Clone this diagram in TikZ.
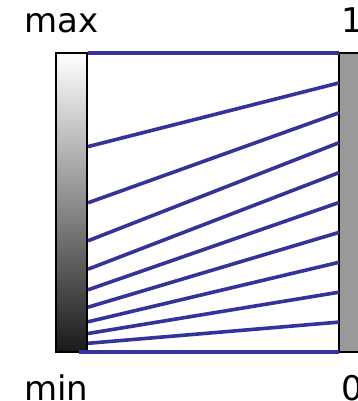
\documentclass[tikz,border=0pt]{standalone}
\usepackage{fontspec}
\setmainfont{DejaVu Sans}
\definecolor{mapblue}{RGB}{51,51,153}
\definecolor{rampgray}{RGB}{153,153,153}
\begin{document}
\begin{tikzpicture}[x=1pt,y=-1pt]
\useasboundingbox (0,0) rectangle (358,401);
\node[draw, rectangle, line width=2pt, inner sep=0pt, minimum width=31pt, minimum height=299pt, top color=white, bottom color=black!90] (inbar) at (71.5,202.5) {};
\node[draw, rectangle, line width=2pt, inner sep=0pt, minimum width=31pt, minimum height=299pt, fill=rampgray] (outbar) at (354.5,202.5) {};
\node[anchor=base west, inner sep=0pt, font=\fontsize{34}{40}\selectfont] (max) at (24,33) {max};
\node[anchor=base west, inner sep=0pt, font=\fontsize{34}{40}\selectfont] (min) at (24,400) {min};
\node[anchor=base west, inner sep=0pt, font=\fontsize{34}{40}\selectfont] (one) at (341,33) {1};
\node[anchor=base west, inner sep=0pt, font=\fontsize{34}{40}\selectfont] (zero) at (341,400) {0};
% mapping lines
\foreach \i/\ly in {0/53,1/146.6,2/202.8,3/240.8,4/269.2,5/289.8,6/307.2,7/321.8,8/333.5,9/343.3} {
  \coordinate (in\i) at (88,\ly);
  \coordinate (out\i) at (339,53+29.9*\i);
  \draw[mapblue, line width=3.6pt] (in\i) -- (out\i);
}
\coordinate (in10) at (79,352);
\coordinate (out10) at (339,352);
\draw[mapblue, line width=3.6pt] (in10) -- (out10);
\end{tikzpicture}
\end{document}
